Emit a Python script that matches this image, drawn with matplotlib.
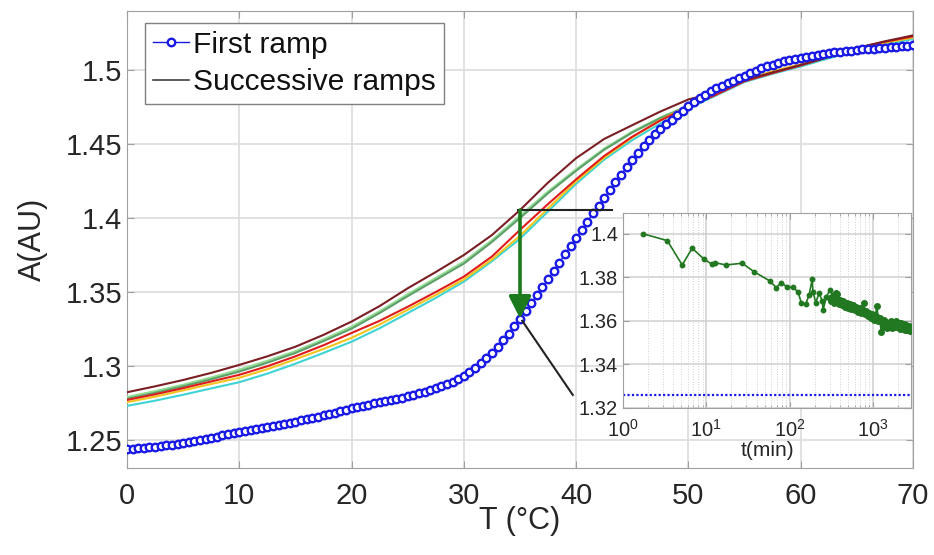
import numpy as np
import matplotlib
matplotlib.use('Agg')
import matplotlib.pyplot as plt
from matplotlib.ticker import FormatStrFormatter, LogLocator, NullFormatter

plt.rcParams['font.family'] = ['Liberation Sans', 'DejaVu Sans']

# ---- first ramp (blue circles), every 0.5 C ----
T_first = np.arange(0, 70.01, 0.5)
A_first = [1.2435, 1.2440, 1.2443, 1.2446, 1.2450, 1.2453, 1.2458, 1.2462, 1.2468, 1.2474,
           1.2480, 1.2487, 1.2494, 1.2501, 1.2508, 1.2515, 1.2522, 1.2530, 1.2538, 1.2546,
           1.2554, 1.2561, 1.2568, 1.2575, 1.2582, 1.2589, 1.2596, 1.2603, 1.2610, 1.2617,
           1.2624, 1.2632, 1.2640, 1.2649, 1.2658, 1.2667, 1.2676, 1.2685, 1.2694, 1.2704,
           1.2714, 1.2722, 1.2730, 1.2738, 1.2746, 1.2754, 1.2762, 1.2770, 1.2778, 1.2786,
           1.2794, 1.2804, 1.2815, 1.2826, 1.2838, 1.2850, 1.2862, 1.2876, 1.2892, 1.2910,
           1.2930, 1.2956, 1.2985, 1.3017, 1.3052, 1.3090, 1.3130, 1.3172, 1.3218, 1.3268,
           1.3320, 1.3372, 1.3424, 1.3478, 1.3532, 1.3587, 1.3642, 1.3698, 1.3754, 1.3810,
           1.3866, 1.3921, 1.3976, 1.4031, 1.4084, 1.4137, 1.4190, 1.4242, 1.4293, 1.4343,
           1.4392, 1.4440, 1.4485, 1.4527, 1.4565, 1.4600, 1.4633, 1.4665, 1.4696, 1.4727,
           1.4757, 1.4784, 1.4810, 1.4835, 1.4857, 1.4877, 1.4895, 1.4912, 1.4929, 1.4946,
           1.4963, 1.4980, 1.4996, 1.5012, 1.5026, 1.5038, 1.5050, 1.5060, 1.5069, 1.5077,
           1.5084, 1.5091, 1.5098, 1.5104, 1.5110, 1.5115, 1.5120, 1.5124, 1.5128, 1.5132,
           1.5136, 1.5140, 1.5143, 1.5146, 1.5149, 1.5152, 1.5155, 1.5158, 1.5161, 1.5164,
           1.5167]

# ---- successive ramps ----
T_ramp = [0, 2.5, 5, 7.5, 10, 12.5, 15, 17.5, 20, 22.5, 25, 27.5, 30, 32.5, 35, 37.5,
          40, 42.5, 45, 47.5, 50, 52.5, 55, 57.5, 60, 62.5, 65, 67.5, 70]
ramp_brown = [1.2822, 1.2862, 1.2905, 1.2953, 1.3007, 1.3065, 1.3130, 1.3210, 1.3300, 1.3405,
              1.3525, 1.3635, 1.3750, 1.3885, 1.4054, 1.4240, 1.4405, 1.4535, 1.4628, 1.4720,
              1.4802, 1.4850, 1.4932, 1.4985, 1.5035, 1.5090, 1.5150, 1.5195, 1.5235]
ramp_lgreen = [1.2790, 1.2830, 1.2873, 1.2922, 1.2975, 1.3035, 1.3100, 1.3180, 1.3265, 1.3370,
               1.3485, 1.3595, 1.3705, 1.3850, 1.4015, 1.4180, 1.4330, 1.4470, 1.4585, 1.4680,
               1.4760, 1.4840, 1.4930, 1.4985, 1.5035, 1.5088, 1.5145, 1.5185, 1.5215]
ramp_green = [1.2778, 1.2818, 1.2862, 1.2910, 1.2962, 1.3022, 1.3088, 1.3168, 1.3252, 1.3358,
              1.3472, 1.3582, 1.3692, 1.3838, 1.4000, 1.4168, 1.4320, 1.4462, 1.4578, 1.4675,
              1.4758, 1.4838, 1.4928, 1.4982, 1.5032, 1.5085, 1.5142, 1.5182, 1.5220]
ramp_red = [1.2770, 1.2808, 1.2850, 1.2895, 1.2940, 1.2998, 1.3065, 1.3140, 1.3223, 1.3305,
            1.3400, 1.3500, 1.3604, 1.3740, 1.3920, 1.4095, 1.4262, 1.4420, 1.4550, 1.4660,
            1.4752, 1.4835, 1.4925, 1.4980, 1.5032, 1.5090, 1.5148, 1.5192, 1.5228]
ramp_yellow = [1.2755, 1.2792, 1.2835, 1.2878, 1.2920, 1.2978, 1.3045, 1.3115, 1.3190, 1.3280,
               1.3380, 1.3480, 1.3585, 1.3720, 1.3880, 1.4065, 1.4248, 1.4408, 1.4545, 1.4662,
               1.4760, 1.4840, 1.4935, 1.4992, 1.5040, 1.5092, 1.5145, 1.5185, 1.5220]
ramp_cyan = [1.2730, 1.2765, 1.2805, 1.2848, 1.2890, 1.2948, 1.3015, 1.3088, 1.3164, 1.3255,
             1.3357, 1.3460, 1.3570, 1.3708, 1.3860, 1.4045, 1.4232, 1.4395, 1.4527, 1.4640,
             1.4740, 1.4830, 1.4920, 1.4975, 1.5025, 1.5080, 1.5135, 1.5175, 1.5210]

ramps = [ramp_lgreen, ramp_green, ramp_cyan, ramp_yellow, ramp_red, ramp_brown]
ramp_colors = ['#93dd93', '#5e9e6a', '#3fd3d3', '#f2c41c', '#e01b1b', '#7a1f24']

# ---- inset: A at 35 C vs time ----
t_min = [1.75, 3.4, 5.13, 6.76, 9.3, 11.7, 12.6, 17.1, 26.9, 37, 57.5, 69, 79.5, 93, 110,
         126, 138, 156, 171, 186, 190, 205, 225, 246, 251, 276, 302, 330, 362,
         300, 310, 325, 340, 355, 370, 385, 400, 420, 440, 460, 480, 500, 525, 550, 575,
         600, 630, 660, 690, 720, 750, 769, 790, 820, 860, 900, 940, 980, 1020, 1070, 1110,
         1150, 1200, 1260, 1300, 1340, 1380, 1430, 1480, 1530, 1580, 1640, 1700, 1760, 1820,
         1880, 1950, 2020, 2100, 2180, 2260, 2340, 2420, 2500, 2580, 2660, 2740, 2820]
A_t = [1.4000, 1.3969, 1.3857, 1.3934, 1.3885, 1.3860, 1.3868, 1.3857, 1.3865, 1.3827,
       1.3784, 1.3753, 1.3776, 1.3755, 1.3755, 1.3732, 1.3682, 1.3678, 1.3720, 1.3792,
       1.3735, 1.3684, 1.3728, 1.3690, 1.3651, 1.3712, 1.3740, 1.3720, 1.3728,
       1.3705, 1.3690, 1.3712, 1.3684, 1.3701, 1.3725, 1.3678, 1.3695, 1.3672, 1.3690,
       1.3665, 1.3682, 1.3660, 1.3678, 1.3655, 1.3672, 1.3648, 1.3664, 1.3642, 1.3658,
       1.3635, 1.3652, 1.3684, 1.3630, 1.3646, 1.3622, 1.3638, 1.3612, 1.3630, 1.3606,
       1.3622, 1.3668, 1.3598, 1.3612, 1.3548, 1.3590, 1.3604, 1.3572, 1.3596, 1.3566,
       1.3592, 1.3570, 1.3598, 1.3566, 1.3594, 1.3574, 1.3600, 1.3570, 1.3592, 1.3565,
       1.3590, 1.3562, 1.3586, 1.3560, 1.3582, 1.3556, 1.3578, 1.3554, 1.3570]
A_first_35 = 1.326   # first ramp level shown in inset

# marker temperature and connector ends (data coords of main axes)
T_mark = 35
conn_h_end = 43.2
conn_d_end = (39.7, 1.2804)

GRID = '#dcdcdc'
SPINE = '#a0a0a0'
TXT = '#262626'

fig = plt.figure(figsize=(9.34, 5.55), dpi=100)
ax = fig.add_axes([0.136, 0.1568, 0.8415, 0.8234])

for vals, c in zip(ramps, ramp_colors):
    ax.plot(T_ramp, vals, color=c, lw=1.5, zorder=3)
ax.plot([], [], color='#404040', lw=1.2, label='Successive ramps')
ax.plot(T_first, A_first, color='#1a1ae6', lw=1.0, marker='o', ms=5.4, mew=1.7,
        mfc='white', mec='#1a1ae6', zorder=4, label='First ramp')

y_top = np.interp(T_mark, T_ramp, ramp_brown)
y_bot = np.interp(T_mark, T_first, A_first)
ax.plot([T_mark - 0.2, conn_h_end], [y_top, y_top], color='#222222', lw=1.5, zorder=5)
ax.plot([T_mark + 0.2, conn_d_end[0]], [y_bot - 0.0015, conn_d_end[1]],
        color='#222222', lw=1.5, zorder=5)
ax.annotate('', xy=(T_mark, y_bot), xytext=(T_mark, y_top),
            arrowprops=dict(arrowstyle='-|>,head_length=0.9,head_width=0.45',
                            color='#1b7a1b', lw=2.6, mutation_scale=15,
                            shrinkA=0, shrinkB=0), zorder=6)

ax.set_xlim(0, 70)
ax.set_ylim(1.231, 1.54)
ax.set_xticks(range(0, 71, 10))
ax.set_yticks([1.25, 1.3, 1.35, 1.4, 1.45, 1.5])
ax.yaxis.set_major_formatter(FormatStrFormatter('%g'))
ax.grid(True, color=GRID, lw=1.2)
ax.set_axisbelow(True)
for s in ax.spines.values():
    s.set_color(SPINE)
ax.tick_params(direction='in', top=True, right=True, length=5, color=SPINE,
               labelcolor=TXT, labelsize=21)
ax.tick_params(axis='x', pad=10, labelsize=21)
ax.set_xlabel('T (°C)', fontsize=22, color=TXT, labelpad=-3)
ax.set_ylabel('A(AU)', fontsize=22, color=TXT, labelpad=13)

h, l = ax.get_legend_handles_labels()
leg = ax.legend(h[::-1], l[::-1], loc='upper left', bbox_to_anchor=(0.023, 0.974),
                borderaxespad=0, fontsize=21.5, handlelength=1.2, handletextpad=0.15,
                labelspacing=0.32, borderpad=0.26, fancybox=False, framealpha=1,
                edgecolor='#808080')
leg.get_frame().set_linewidth(1.0)
for t in leg.get_texts():
    t.set_color('#111111')

# ---- inset ----
axi = fig.add_axes([0.667, 0.2649, 0.3084, 0.3514])
axi.set_xscale('log')
axi.axhline(A_first_35, color='#1a1ae6', lw=1.6, ls=(0, (1, 1)))
axi.plot(t_min[:29], A_t[:29], color='#217821', lw=1.2, marker='o', ms=3.2, zorder=3)
order = np.argsort(t_min[29:])
t_dense = np.array(t_min[29:])[order]
A_dense = np.array(A_t[29:])[order]
axi.plot(np.r_[t_min[28], t_dense], np.r_[A_t[28], A_dense], color='#217821', lw=1.4,
         marker='o', ms=4.0, zorder=3)
axi.set_xlim(1, 2850)
axi.set_ylim(1.32, 1.4096)
axi.set_yticks([1.32, 1.34, 1.36, 1.38, 1.4])
axi.yaxis.set_major_formatter(FormatStrFormatter('%g'))
axi.xaxis.set_major_locator(LogLocator(base=10, numticks=10))
axi.xaxis.set_minor_locator(LogLocator(base=10, subs=np.arange(2, 10), numticks=10))
axi.xaxis.set_minor_formatter(NullFormatter())
axi.grid(True, which='major', color='#cfcfcf', lw=1.1)
axi.grid(True, which='minor', axis='x', color='#d0d0d0', lw=0.7, ls=':')
axi.set_axisbelow(True)
for s in axi.spines.values():
    s.set_color(SPINE)
axi.tick_params(which='both', direction='in', top=True, right=True, color=SPINE,
                labelcolor=TXT, labelsize=14.5)
axi.tick_params(which='major', length=4)
axi.tick_params(which='minor', length=2)
axi.tick_params(axis='x', pad=8)
axi.set_xlabel('t(min)', fontsize=15, color=TXT, labelpad=0)

fig.savefig('out.png', dpi=100)
